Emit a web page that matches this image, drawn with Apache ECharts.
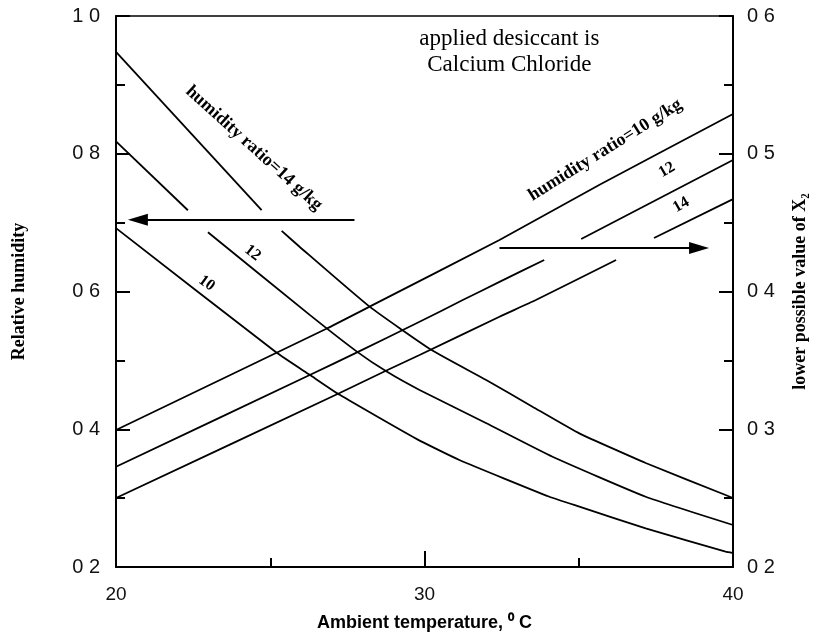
<!DOCTYPE html>
<html>
<head>
<meta charset="utf-8">
<script src="https://cdn.jsdelivr.net/npm/echarts@6/dist/echarts.min.js"></script>
<style>
  html, body { margin: 0; padding: 0; background: #fff; }
  #main { width: 817px; height: 641px; }
</style>
</head>
<body>
<div id="main"></div>
<script>
// relative humidity (left axis) vs ambient temperature, split where labels/arrow cut the curve
const rh14a = [[20, 0.948], [24.72, 0.718]]
const rh14b = [[25.37, 0.688], [25.95, 0.665], [28.22, 0.578], [30.23, 0.515], [32.0, 0.4715], [33.5, 0.4328], [35.02, 0.394], [37.17, 0.351], [39.76, 0.3045], [40, 0.3]]
const rh12a = [[20, 0.818], [22.33, 0.718]]
const rh12b = [[22.98, 0.686], [26.28, 0.566], [27.83, 0.512], [28.8, 0.483], [29.84, 0.457], [31.99, 0.409], [34.15, 0.36], [37.17, 0.302], [40, 0.261]]
const rh10 = [[20, 0.692], [25.21, 0.511], [26.28, 0.479], [27.25, 0.45], [29.74, 0.386], [31.13, 0.3554], [34.05, 0.302], [35.02, 0.2876], [37.17, 0.2562], [39.76, 0.2222], [40, 0.2203]]

// lower possible value of X2 (right axis)
const x2h10 = [[20, 0.2995], [26.82, 0.373], [28.22, 0.389], [32.43, 0.4374], [35.66, 0.4773], [40, 0.5289]]
const x2h12a = [[20, 0.2728], [26.28, 0.3394], [27.83, 0.356], [29.84, 0.378], [31.24, 0.3938], [32.43, 0.407], [33.88, 0.4229]]
const x2h12b = [[35.08, 0.4381], [40, 0.4955]]
const x2h14a = [[20, 0.2501], [27.25, 0.3263], [28.8, 0.343], [29.84, 0.3539], [32.43, 0.3817], [33.61, 0.3938], [36.21, 0.4229]]
const x2h14b = [[37.44, 0.4388], [40, 0.4671]]

// arrows (data coords)
const arrowLeft = [[27.73, 0.704], [20.71, 0.704]]
const arrowRight = [[32.43, 0.4316], [38.9, 0.4316]]

const SERIF = '"Liberation Serif", "DejaVu Serif", serif'
const SANS = '"Liberation Sans", Arial, sans-serif'

function curve(data, axis, extra) {
  return Object.assign({
    type: 'line',
    yAxisIndex: axis,
    data: data,
    showSymbol: false,
    symbol: 'none',
    smooth: 0.15,
    lineStyle: { color: '#000', width: 1.8 },
    silent: true
  }, extra || {})
}

function arrow(coords) {
  return {
    silent: true,
    symbol: ['none', 'triangle'],
    symbolSize: [12, 20],
    label: { show: false },
    lineStyle: { color: '#000', width: 2, type: 'solid' },
    data: [[{ coord: coords[0] }, { coord: coords[1] }]]
  }
}

const decimalLabel = v => v.toFixed(1).replace('.', ' ')

const axisCommon = {
  type: 'value',
  axisLine: { show: true, lineStyle: { color: '#000', width: 2 } },
  axisTick: { show: true, inside: true, length: 14, lineStyle: { color: '#000', width: 2 } },
  minorTick: { show: true, splitNumber: 2, length: 9, lineStyle: { color: '#000', width: 2 } },
  splitLine: { show: false },
  minorSplitLine: { show: false }
}

let option = {
  animation: false,
  backgroundColor: '#fff',
  grid: { left: 116, right: 83, top: 16, bottom: 74, show: true, borderColor: '#000', borderWidth: 1.5 },
  xAxis: Object.assign({}, axisCommon, {
    min: 20, max: 40, interval: 10,
    axisTick: { show: true, inside: true, length: 16, lineStyle: { color: '#000', width: 2 } },
    axisLabel: { fontSize: 19, color: '#111', margin: 18, fontFamily: SANS },
    name: 'Ambient temperature, \u2070 C',
    nameLocation: 'middle',
    nameGap: 47,
    nameTextStyle: { fontSize: 18, fontWeight: 'bold', color: '#000', fontFamily: SANS }
  }),
  yAxis: [
    Object.assign({}, axisCommon, {
      position: 'left',
      min: 0.2, max: 1.0, interval: 0.2,
      axisLabel: { fontSize: 20, color: '#111', margin: 16, fontFamily: SANS, formatter: decimalLabel },
      name: 'Relative humidity',
      nameLocation: 'middle',
      nameGap: 88,
      nameTextStyle: { fontSize: 18, fontWeight: 'bold', color: '#000', fontFamily: SERIF }
    }),
    Object.assign({}, axisCommon, {
      position: 'right',
      min: 0.2, max: 0.6, interval: 0.1,
      axisLabel: { fontSize: 20, color: '#111', margin: 14, fontFamily: SANS, formatter: decimalLabel },
      name: 'lower possible value of X\u2082',
      nameLocation: 'middle',
      nameGap: 58,
      nameTextStyle: { fontSize: 18, fontWeight: 'bold', color: '#000', fontFamily: SERIF }
    })
  ],
  series: [
    curve(rh14a, 0),
    curve(rh14b, 0, { markLine: arrow(arrowLeft) }),
    curve(rh12a, 0),
    curve(rh12b, 0),
    curve(rh10, 0),
    curve(x2h10, 1, { markLine: arrow(arrowRight) }),
    curve(x2h12a, 1),
    curve(x2h12b, 1),
    curve(x2h14a, 1),
    curve(x2h14b, 1)
  ]
}

const chart = echarts.init(document.getElementById('main'), null, { renderer: 'canvas' })
chart.setOption(option)

// annotations placed in data space: [text, axis, temp, value, rotation deg, font]
const notes = [
  ['applied desiccant is', 0, 32.75, 0.966, 0, '23px ' + SERIF],
  ['Calcium Chloride', 0, 32.75, 0.929, 0, '23px ' + SERIF],
  ['humidity ratio=14 g/kg', 0, 24.47, 0.808, -42, 'bold 18px ' + SERIF],
  ['12', 0, 24.43, 0.656, -38, 'bold 16px ' + SERIF],
  ['10', 0, 22.94, 0.612, -36, 'bold 16px ' + SERIF],
  ['humidity ratio=10 g/kg', 1, 35.86, 0.5027, 32, 'bold 18px ' + SERIF],
  ['12', 1, 37.86, 0.4882, 30, 'bold 16px ' + SERIF],
  ['14', 1, 38.32, 0.4628, 30, 'bold 16px ' + SERIF]
]

chart.setOption({
  graphic: notes.map(n => {
    let p = chart.convertToPixel({ xAxisIndex: 0, yAxisIndex: n[1] }, [n[2], n[3]])
    return {
      type: 'text',
      x: p[0],
      y: p[1],
      rotation: n[4] * Math.PI / 180,
      silent: true,
      style: {
        text: n[0],
        font: n[5],
        fill: '#000',
        align: 'center',
        verticalAlign: 'middle',
        textAlign: 'center',
        textVerticalAlign: 'middle'
      }
    }
  })
})
</script>
</body>
</html>
